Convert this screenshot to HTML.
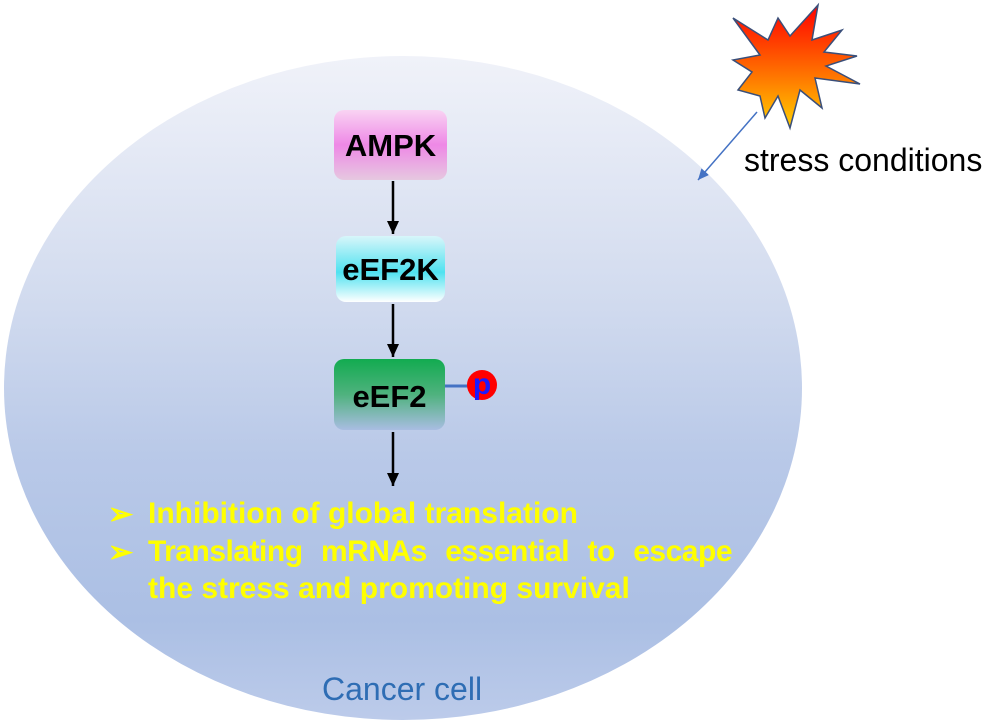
<!DOCTYPE html>
<html><head><style>
body{margin:0;width:986px;height:722px;background:#fff;position:relative;overflow:hidden;font-family:"Liberation Sans",sans-serif}
.cell{position:absolute;left:4px;top:56px;width:798px;height:664px;border-radius:50%;background:linear-gradient(#f0f2f9 0%,#d3dcef 35%,#b9c9e8 60%,#abbfe4 85%,#bccbea 100%)}
.box{position:absolute;border-radius:10px;font-weight:bold;font-size:31px;text-align:center;color:#000}
.t{position:absolute;color:#ffff00;font-weight:bold;font-size:30px;font-family:"Liberation Sans",sans-serif;white-space:nowrap}
</style></head><body>
<div class="cell"></div>
<div class="box" style="left:334px;top:110px;width:113px;height:70px;line-height:72px;background:linear-gradient(#f9d3f3,#ee88e6 50%,#e6c8e0)">AMPK</div>
<div class="box" style="left:336px;top:236px;width:109px;height:66px;line-height:68px;background:linear-gradient(#d8f6fa,#4fe2f0 55%,#fff)">eEF2K</div>
<div class="box" style="left:334px;top:359px;width:111px;height:71px;line-height:76px;background:linear-gradient(#12ab50,#4fb27e 50%,#a9bde2)">eEF2</div>
<svg width="986" height="722" style="position:absolute;left:0;top:0">
<defs><marker id="a" markerWidth="14" markerHeight="14" refX="13" refY="6" orient="auto" markerUnits="userSpaceOnUse"><path d="M0,0L13,6L0,12z" fill="#000"/></marker>
<marker id="b" markerWidth="12" markerHeight="12" refX="11" refY="5" orient="auto" markerUnits="userSpaceOnUse"><path d="M0,0L11,5L0,10z" fill="#4472c4"/></marker>
<linearGradient id="g" x1="0" y1="0" x2="0" y2="1"><stop offset="0" stop-color="#ff0000"/><stop offset="0.6" stop-color="#ff7a00"/><stop offset="1" stop-color="#ffd000"/></linearGradient></defs>
<line x1="393" y1="181" x2="393" y2="234" stroke="#000" stroke-width="2.5" marker-end="url(#a)"/>
<line x1="393" y1="304" x2="393" y2="357" stroke="#000" stroke-width="2.5" marker-end="url(#a)"/>
<line x1="393" y1="432" x2="393" y2="486" stroke="#000" stroke-width="2.5" marker-end="url(#a)"/>
<line x1="445" y1="386" x2="468" y2="386" stroke="#4472c4" stroke-width="3"/>
<circle cx="482" cy="385" r="15" fill="#ff0000"/>
<text x="482" y="394" text-anchor="middle" font-family="Liberation Sans" font-weight="bold" font-size="30" fill="#1a1aff">p</text>
<polygon fill="url(#g)" stroke="#3a4f7a" stroke-width="1.5" points="733,18 768,40 778,18 790,36 818,5 812,40 842,30 824,52 857,56 826,66 860,84 815,78 822,108 800,90 790,128 778,96 765,118 760,96 738,90 752,72 733,60 760,55"/>
<line x1="757" y1="112" x2="698" y2="180" stroke="#4472c4" stroke-width="1.5" marker-end="url(#b)"/>
</svg>
<div style="position:absolute;left:744px;top:142px;font-size:32px;color:#000">stress conditions</div>
<div class="t" style="left:108px;top:497px">➢</div>
<div class="t" style="left:148px;top:497px">Inhibition of global translation</div>
<div class="t" style="left:108px;top:535px">➢</div>
<div class="t" style="left:148px;top:535px;width:584px;white-space:normal;text-align:justify;text-align-last:justify;letter-spacing:-0.5px">Translating mRNAs essential to escape</div>
<div class="t" style="left:148px;top:572px">the stress and promoting survival</div>
<div style="position:absolute;left:322px;top:671px;font-size:32px;color:#2e6db4">Cancer cell</div>
</body></html>
